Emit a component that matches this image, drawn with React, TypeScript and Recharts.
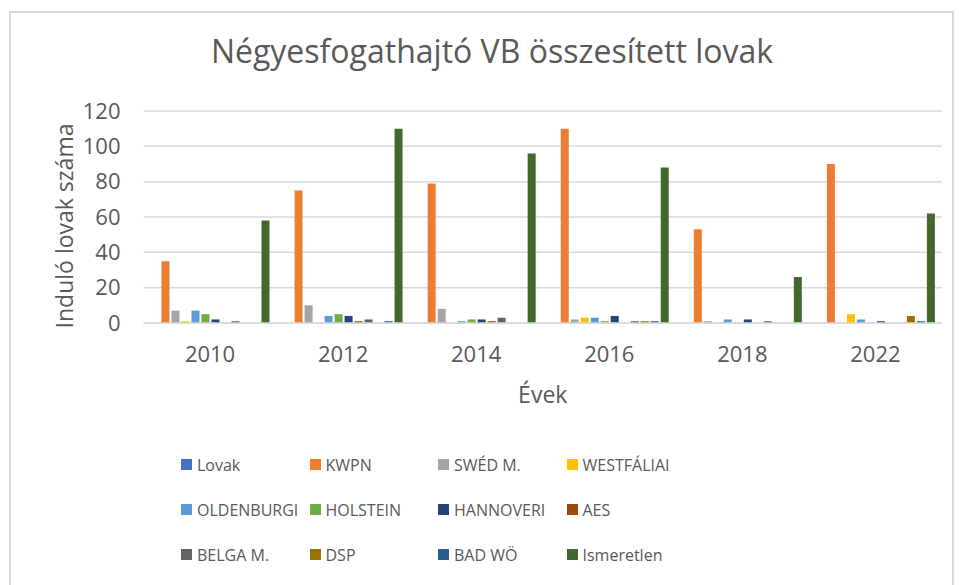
// Négyesfogathajtó VB — horse breeds per championship year
// Excel-style clustered column chart, redrawn with Recharts

import { BarChart, Bar, XAxis, YAxis, CartesianGrid, Legend } from "recharts";

const years = ["2010", "2012", "2014", "2016", "2018", "2022"];

const seriesNames = [
  "Lovak",
  "KWPN",
  "SWÉD M.",
  "WESTFÁLIAI",
  "OLDENBURGI",
  "HOLSTEIN",
  "HANNOVERI",
  "AES",
  "BELGA M.",
  "DSP",
  "BAD WÖ",
  "Ismeretlen",
];

const seriesColors = [
  "#4472C4",
  "#ED7D31",
  "#A5A5A5",
  "#FFC000",
  "#5B9BD5",
  "#70AD47",
  "#264478",
  "#9E480E",
  "#636363",
  "#997300",
  "#255E91",
  "#43682B",
];

// one list per breed, in the order of `years`
const lovak = [0, 0, 0, 0, 0, 0];
const kwpn = [35, 75, 79, 110, 53, 90];
const swed = [7, 10, 8, 2, 1, 0];
const westfaliai = [1, 0, 0, 3, 0, 5];
const oldenburgi = [7, 4, 1, 3, 2, 2];
const holstein = [5, 5, 2, 1, 0, 0];
const hannoveri = [2, 4, 2, 4, 2, 1];
const aes = [0, 1, 1, 0, 0, 0];
const belga = [1, 2, 3, 1, 1, 0];
const dsp = [0, 0, 0, 1, 0, 4];
const badWo = [0, 1, 0, 1, 0, 1];
const ismeretlen = [58, 110, 96, 88, 26, 62];

const seriesValues = [
  lovak,
  kwpn,
  swed,
  westfaliai,
  oldenburgi,
  holstein,
  hannoveri,
  aes,
  belga,
  dsp,
  badWo,
  ismeretlen,
];

const yTicks = [0, 20, 40, 60, 80, 100, 120];

const chartData = years.map((year, i) => {
  const row: Record<string, string | number> = { year };
  seriesNames.forEach((name, s) => {
    row[`s${s}`] = seriesValues[s][i];
  });
  return row;
});

const FONT = "'Open Sans', 'Liberation Sans', sans-serif";
const TEXT = "#595959";
const GRID = "#D9D9D9";

function LegendGrid() {
  return (
    <div
      style={{
        display: "grid",
        gridTemplateColumns: "repeat(4, 128.5px)",
        gridAutoRows: "45px",
        fontFamily: FONT,
        fontSize: 16,
        color: TEXT,
      }}
    >
      {seriesNames.map((name, i) => (
        <div
          key={name}
          style={{ display: "flex", alignItems: "center", whiteSpace: "nowrap" }}
        >
          <span
            style={{
              width: 11,
              height: 11,
              background: seriesColors[i],
              marginRight: 5,
              flexShrink: 0,
            }}
          />
          {name}
        </div>
      ))}
    </div>
  );
}

// rotated y axis title, a little below the plot's middle like in Excel
function YTitle({ viewBox }: any) {
  const cx = 64;
  const cy = viewBox.y + viewBox.height / 2 + 9;
  return (
    <text
      x={cx}
      y={cy}
      transform={`rotate(-90, ${cx}, ${cy})`}
      textAnchor="middle"
      dominantBaseline="central"
      fill={TEXT}
      fontSize={23}
      fontFamily={FONT}
    >
      Induló lovak száma
    </text>
  );
}

export default function App() {
  return (
    <div
      style={{
        position: "absolute",
        left: 0,
        top: 0,
        width: 959,
        height: 585,
        overflow: "hidden",
        background: "#fff",
      }}
    >
      {/* chart frame */}
      <div
        style={{
          position: "absolute",
          left: 9,
          top: 11,
          width: 941,
          height: 600,
          border: `2px solid ${GRID}`,
        }}
      />
      <div
        style={{
          position: "absolute",
          left: 0,
          top: 29,
          width: 984,
          textAlign: "center",
          fontFamily: FONT,
          fontSize: 32,
          color: TEXT,
          whiteSpace: "nowrap",
        }}
      >
        Négyesfogathajtó VB összesített lovak
      </div>

      <div style={{ position: "absolute", left: 0, top: 0 }}>
        <BarChart
          width={959}
          height={585}
          data={chartData}
          margin={{ top: 111, right: 17, left: 0, bottom: 202 }}
          barCategoryGap="6%"
          barGap={2}
          style={{ fontFamily: FONT }}
        >
          <CartesianGrid vertical={false} stroke={GRID} strokeWidth={1.5} />
          <XAxis
            dataKey="year"
            height={60}
            tickLine={false}
            axisLine={{ stroke: GRID, strokeWidth: 1.5 }}
            tickSize={0}
            tickMargin={23}
            tick={{ fill: TEXT, fontSize: 22 }}
            label={{
              value: "Évek",
              position: "bottom",
              offset: 4,
              style: { fill: TEXT, fontSize: 23 },
            }}
          />
          <YAxis
            width={143.5}
            domain={[0, 120]}
            ticks={yTicks}
            tickLine={false}
            axisLine={false}
            tickSize={0}
            tickMargin={23}
            tick={{ fill: TEXT, fontSize: 22 }}
            label={{ content: (props: any) => <YTitle {...props} /> }}
          />
          <Legend
            layout="horizontal"
            verticalAlign="middle"
            align="center"
            wrapperStyle={{ top: 442, left: 181, width: 530 }}
            content={() => <LegendGrid />}
          />
          {seriesNames.map((name, s) => (
            <Bar
              key={name}
              dataKey={`s${s}`}
              name={name}
              fill={seriesColors[s]}
              isAnimationActive={false}
            />
          ))}
        </BarChart>
      </div>
    </div>
  );
}
